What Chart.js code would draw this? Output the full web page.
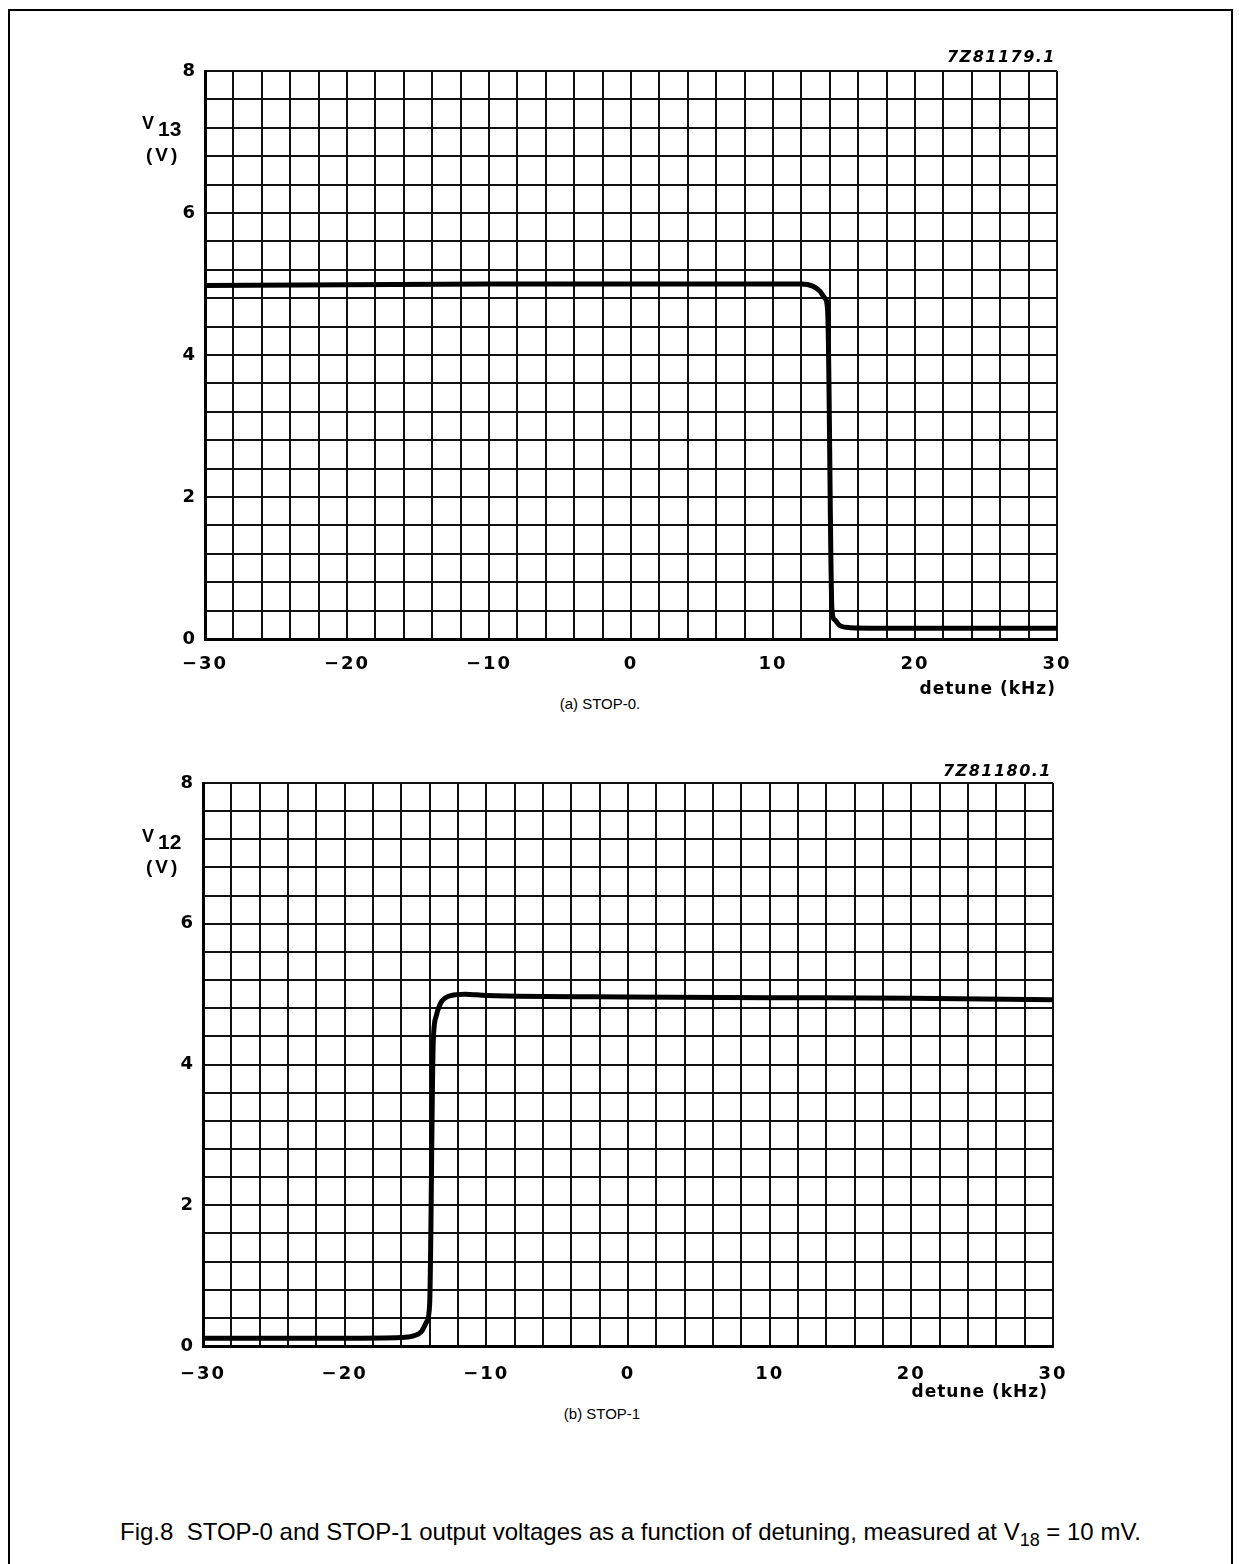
<!DOCTYPE html>
<html>
<head>
<meta charset="utf-8">
<script src="https://cdn.jsdelivr.net/npm/chart.js@4/dist/chart.umd.min.js"></script>
<style>
  html, body { margin:0; padding:0; background:#fff; }
  body { width:1239px; height:1564px; position:relative; overflow:hidden; font-family:"Liberation Sans", Arial, sans-serif; color:#000; }
  .frame { position:absolute; left:8px; top:9px; width:1221px; height:1600px; border:2px solid #000; border-bottom:none; }
  .box { position:absolute; }
  .t { position:absolute; white-space:nowrap; }
  .ax { font-family:"DejaVu Sans", sans-serif; font-weight:bold; font-size:17px; letter-spacing:1px; }
  .vl { font-family:"Liberation Sans", Arial, sans-serif; font-weight:bold; }
  .code { font-family:"DejaVu Sans", sans-serif; font-weight:bold; font-style:italic; font-size:16px; letter-spacing:1.5px; }
  .sub { font-size:15px; transform:translateX(-50%); }
  .cap { font-size:24px; }
</style>
</head>
<body>
<div class="frame"></div>

<div class="box" style="left:130px;top:50px;width:960px;height:640px;"><canvas id="c1" width="960" height="640"></canvas></div>
<div class="box" style="left:128px;top:762px;width:960px;height:640px;"><canvas id="c2" width="960" height="640"></canvas></div>

<div class="t code" style="right:183px;top:47px;">7Z81179.1</div>
<div class="t vl" style="left:142px;top:110px;font-size:18px;">V<span style="position:relative;top:7px;margin-left:4px;font-size:21px;">13</span></div>
<div class="t vl" style="left:146px;top:144px;font-size:19px;letter-spacing:3px;">(V)</div>
<div class="t ax" style="right:183px;top:678px;">detune (kHz)</div>
<div class="t sub" style="left:600px;top:695px;">(a) STOP-0.</div>

<div class="t code" style="right:187px;top:761px;">7Z81180.1</div>
<div class="t vl" style="left:142px;top:823px;font-size:18px;">V<span style="position:relative;top:7px;margin-left:4px;font-size:21px;">12</span></div>
<div class="t vl" style="left:146px;top:856px;font-size:19px;letter-spacing:3px;">(V)</div>
<div class="t ax" style="right:191px;top:1381px;">detune (kHz)</div>
<div class="t sub" style="left:602px;top:1405px;">(b) STOP-1</div>

<div class="t cap" style="left:120px;top:1518px;">Fig.8&nbsp; STOP-0 and STOP-1 output voltages as a function of detuning, measured at V<span style="font-size:18px;position:relative;top:6px;">18</span> = 10 mV.</div>

<script>
// ---- data ----
const xTickLabels = [-30, -20, -10, 0, 10, 20, 30];
const yTickLabels = [0, 2, 4, 6, 8];

// (a) STOP-0 : V13 vs detune
const stop0Detune = [-30, -20, -10, 0, 10, 12, 12.8, 13.3, 13.65, 13.85, 14.15, 14.35, 14.7, 15.4, 20, 30];
const stop0V13    = [4.98, 4.99, 5.0, 5.0, 5.0, 5.0, 4.97, 4.9, 4.8, 4.62, 0.42, 0.27, 0.19, 0.16, 0.15, 0.15];

// (b) STOP-1 : V12 vs detune
const stop1Detune = [-30, -20, -16, -15.2, -14.6, -14.2, -14.0, -13.75, -13.55, -13.2, -12.5, -11.5, -10, 0, 10, 20, 30];
const stop1V12    = [0.11, 0.11, 0.12, 0.14, 0.2, 0.35, 0.6, 4.3, 4.68, 4.88, 4.98, 5.0, 4.98, 4.96, 4.95, 4.94, 4.92];

function pts(xs, ys) { return xs.map((x, i) => ({x: x, y: ys[i]})); }

const spacingPlugin = {
  id: 'spacing',
  beforeDraw(chart) { chart.ctx.letterSpacing = '2px'; }
};

function makeChart(id, xs, ys, pad, yW, xH, xPad) {
  const tickFont = { family: "'DejaVu Sans', sans-serif", size: 18, weight: 'bold' };
  return new Chart(document.getElementById(id), {
    type: 'line',
    plugins: [spacingPlugin],
    data: { datasets: [{
      data: pts(xs, ys),
      borderColor: '#000', borderWidth: 5, pointRadius: 0,
      cubicInterpolationMode: 'monotone', fill: false
    }]},
    options: {
      responsive: false, animation: false,
      layout: { padding: pad, autoPadding: false },
      plugins: { legend: { display: false }, tooltip: { enabled: false } },
      scales: {
        x: {
          type: 'linear', min: -30, max: 30,
          afterFit: s => { s.height = xH; },
          border: { color: '#000', width: 3 },
          grid: { color: '#111', lineWidth: 2, drawTicks: false },
          ticks: {
            stepSize: 2, autoSkip: false, maxRotation: 0, padding: xPad,
            color: '#000', font: tickFont,
            callback: v => xTickLabels.includes(Math.round(v)) && Math.abs(v - Math.round(v)) < 1e-6 ? String(Math.round(v)).replace('-', '\u2212') : ''
          }
        },
        y: {
          type: 'linear', min: 0, max: 8,
          afterFit: s => { s.width = yW; },
          border: { color: '#000', width: 3 },
          grid: { color: '#111', lineWidth: 2, drawTicks: false },
          ticks: {
            stepSize: 0.4, autoSkip: false, padding: 8,
            color: '#000', font: tickFont,
            callback: v => { const r = Math.round(v); return (Math.abs(v - r) < 1e-6 && yTickLabels.includes(r)) ? String(r) : ''; }
          }
        }
      }
    }
  });
}

makeChart('c1', stop0Detune, stop0V13, {top: 21, right: 33, bottom: 0, left: 0}, 75, 51, 15);
makeChart('c2', stop1Detune, stop1V12, {top: 21, right: 35, bottom: 0, left: 0}, 75, 56, 18);
</script>
</body>
</html>
